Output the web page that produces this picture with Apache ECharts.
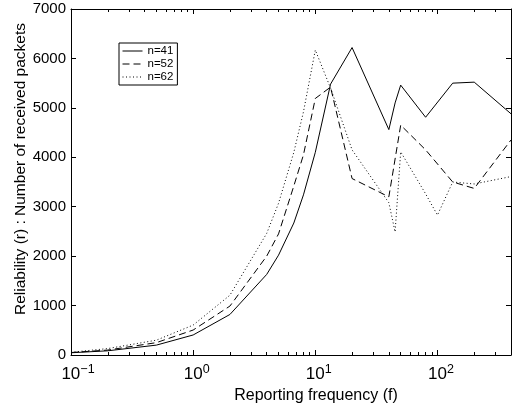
<!DOCTYPE html>
<html><head><meta charset="utf-8">
<script src="https://cdn.jsdelivr.net/npm/echarts@6/dist/echarts.min.js"></script>
<style>html,body{margin:0;padding:0;background:#fff}#c{width:512px;height:405px}</style>
</head><body><div id="c"></div>
<script>
const seriesNames = ['n=41', 'n=52', 'n=62'];
const freq41 = [0.1, 0.2, 0.5, 1, 2, 4, 5, 6.67, 8, 10, 13.33, 20, 40, 45, 50, 80, 133.3, 200, 400];
const val41  = [45, 85, 200, 405, 820, 1630, 2020, 2670, 3240, 4100, 5480, 6220, 4560, 5100, 5460, 4810, 5500, 5520, 4880];
const freq52 = [0.1, 0.2, 0.5, 1, 2, 4, 5, 6.67, 8, 10, 13.33, 20, 40, 50, 80, 133.3, 200, 400];
const val52  = [50, 100, 250, 505, 990, 2000, 2450, 3420, 4050, 5190, 5420, 3570, 3200, 4650, 4150, 3500, 3370, 4350];
const freq62 = [0.1, 0.2, 0.5, 1, 2, 4, 5, 6.67, 8, 10, 13.33, 20, 40, 45, 50, 80, 100, 133.3, 200, 400];
const val62  = [55, 130, 300, 605, 1210, 2460, 3070, 4100, 4920, 6170, 5400, 4150, 3080, 2490, 4110, 3260, 2830, 3500, 3460, 3610];
const majorTicks = [0.1, 1, 10, 100];
const minorTicks = [0.2, 0.3, 0.4, 0.5, 0.6, 0.7, 0.8, 0.9, 2, 3, 4, 5, 6, 7, 8, 9, 20, 30, 40, 50, 60, 70, 80, 90, 200, 300];
const xMin = 0.1, xMax = 400;
const yMin = 0, yMax = 7000, yStep = 1000;

const FONT = "'Liberation Sans', Arial, Helvetica, sans-serif";
const lg = v => Math.log10(v);
const LMIN = lg(xMin), LMAX = lg(xMax);

function tickAxis(pos, values, len, opts) {
  return Object.assign({
    type: 'value', min: LMIN, max: LMAX, position: pos, gridIndex: 0,
    axisLine: { show: false, onZero: false },
    axisTick: { show: true, inside: true, length: len, customValues: values.map(lg), lineStyle: { color: '#000', width: 1 } },
    axisLabel: { show: false },
    splitLine: { show: false }
  }, opts || {});
}

const pairs = (xs, ys) => xs.map((x, i) => [x, ys[i]]);
const styles = [
  { type: 'solid' },
  { type: [7, 4] },
  { type: [1, 2.5] }
];
const datasets = [pairs(freq41, val41), pairs(freq52, val52), pairs(freq62, val62)];

const chart = echarts.init(document.getElementById('c'), null, { renderer: 'canvas' });
chart.setOption({
  animation: false,
  backgroundColor: '#fff',
  textStyle: { fontFamily: FONT, color: '#000' },
  grid: { left: 71, right: 1, top: 9, bottom: 50, containLabel: false, outerBoundsMode: 'none' },
  legend: {
    orient: 'vertical', left: 119, top: 43,
    data: seriesNames,
    borderColor: '#000', borderWidth: 1, backgroundColor: '#fff',
    padding: [2, 4, 2, 3],
    itemWidth: 20, itemHeight: 10, itemGap: 1,
    itemStyle: { color: 'rgba(0,0,0,0)', borderWidth: 0, opacity: 0 },
    lineStyle: { width: 1, color: '#000' },
    textStyle: { fontSize: 11.5, fontFamily: FONT, color: '#000', lineHeight: 11 }
  },
  xAxis: [
    { type: 'log', logBase: 10, min: xMin, max: xMax, show: false, splitLine: { show: false }, axisLine: { onZero: false } },
    tickAxis('bottom', majorTicks, 5, {
      axisLine: { show: true, onZero: false, lineStyle: { color: '#000', width: 1 } },
      axisLabel: {
        show: true, margin: 8, customValues: majorTicks.map(lg), color: '#000',
        formatter: v => {
          const e = Math.round(v);
          const es = e < 0 ? '\u2212' + (-e) : String(e);
          return '{' + (e < 0 ? 'pm' : 'p') + '| }{b|10}{s|' + es + '}';
        },
        rich: {
          b: { fontSize: 17, lineHeight: 20, verticalAlign: 'bottom', fontFamily: FONT, color: '#000' },
          s: { fontSize: 12.5, lineHeight: 14, verticalAlign: 'top', fontFamily: FONT, color: '#000' },
          p: { width: 7, fontSize: 12.5, lineHeight: 14 },
          pm: { width: 14, fontSize: 12.5, lineHeight: 14 }
        }
      },
      name: 'Reporting frequency (f)', nameLocation: 'middle', nameGap: 27,
      nameTextStyle: { fontSize: 16, fontFamily: FONT, color: '#000', padding: [0, 0, 0, 50] }
    }),
    tickAxis('bottom', minorTicks, 3),
    tickAxis('top', majorTicks, 5, { axisLine: { show: true, onZero: false, lineStyle: { color: '#000', width: 1 } } }),
    tickAxis('top', minorTicks, 3)
  ],
  yAxis: [
    {
      type: 'value', min: yMin, max: yMax, interval: yStep, position: 'left',
      axisLine: { show: true, onZero: false, lineStyle: { color: '#000', width: 1 } },
      axisTick: { show: true, inside: true, length: 5, lineStyle: { color: '#000', width: 1 } },
      axisLabel: { margin: 5, fontSize: 15, color: '#000', fontFamily: FONT, formatter: v => String(v) },
      splitLine: { show: false },
      name: 'Reliability (r) : Number of received packets', nameLocation: 'middle', nameGap: 42, nameRotate: 90,
      nameMoveOverlap: false,
      nameTextStyle: { fontSize: 15.5, fontFamily: FONT, color: '#000', padding: [0, 0, 0, 26] }
    },
    {
      type: 'value', min: yMin, max: yMax, interval: yStep, position: 'right',
      axisLine: { show: true, onZero: false, lineStyle: { color: '#000', width: 1 } },
      axisTick: { show: true, inside: true, length: 5, lineStyle: { color: '#000', width: 1 } },
      axisLabel: { show: false },
      splitLine: { show: false }
    }
  ],
  series: seriesNames.map((n, i) => ({
    name: n, type: 'line', xAxisIndex: 0, yAxisIndex: 0,
    data: datasets[i], symbol: 'none', showSymbol: false, smooth: false,
    lineStyle: Object.assign({ color: '#000', width: 1 }, styles[i]),
    itemStyle: { color: '#000' }
  }))
});
</script>
</body></html>
